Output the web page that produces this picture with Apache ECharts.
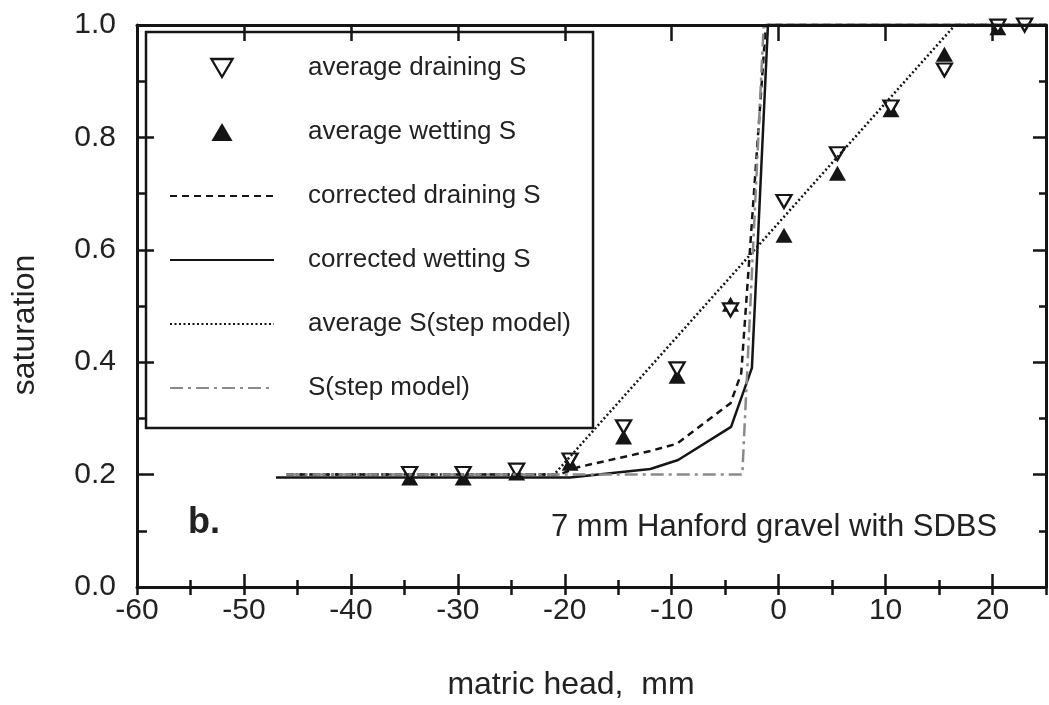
<!DOCTYPE html>
<html><head><meta charset="utf-8">
<script src="https://cdn.jsdelivr.net/npm/echarts@6/dist/echarts.min.js"></script>
<style>html,body{margin:0;padding:0;background:#fff}#c{width:1049px;height:705px}</style>
</head><body><div id="c"></div>
<script>
// ---- data ----
const xDrain = [-34.5, -29.5, -24.5, -19.5, -14.5, -9.5, -4.5, 0.5, 5.5, 10.5, 15.5, 20.5, 23];
const yDrain = [0.202, 0.202, 0.208, 0.226, 0.285, 0.388, 0.493, 0.686, 0.771, 0.854, 0.92, 0.998, 1.0];
const xWet = [-34.5, -29.5, -24.5, -19.5, -14.5, -9.5, -4.5, 0.5, 5.5, 10.5, 15.5, 20.5];
const yWet = [0.194, 0.194, 0.203, 0.22, 0.267, 0.375, 0.503, 0.626, 0.736, 0.849, 0.948, 0.995];
const xCorrDrain = [-46, -20.5, -18.8, -12, -9.5, -4.5, -3.5, -1.2, 25];
const yCorrDrain = [0.2, 0.2, 0.213, 0.242, 0.255, 0.327, 0.38, 1.0, 1.0];
const xCorrWet = [-47, -19.5, -12, -9.4, -4.45, -2.5, -1, 25];
const yCorrWet = [0.195, 0.195, 0.21, 0.226, 0.285, 0.39, 1.0, 1.0];
const xAvgStep = [-46, -21, 16.5, 25];
const yAvgStep = [0.2, 0.2, 1.0, 1.0];
const xStep = [-46, -3.4, -1.4, 25];
const yStep = [0.2, 0.2, 1.0, 1.0];
const legendNames = ['average draining S', 'average wetting S', 'corrected draining S',
                     'corrected wetting S', 'average S(step model)', 'S(step model)'];
const xTitle = 'matric head,  mm';
const yTitle = 'saturation';
const note = '7 mm Hanford gravel with SDBS';
const panel = 'b.';

const zip = (xs, ys) => xs.map((x, i) => [x, ys[i]]);
const FONT = '"Liberation Sans", Arial, Helvetica, sans-serif';
const INK = '#151515';
const GREY = '#8a8a8a';
const DOWN_TRI = 'path://M0,0L20,0L10,17Z';
const UP_TRI = 'path://M10,0L20,17L0,17Z';
const HIDDEN = {color: 'rgba(0,0,0,0)', borderWidth: 0, opacity: 0};

const chart = echarts.init(document.getElementById('c'), null, {renderer: 'canvas'});
const XMIN = -60, XMAX = 25;
function xAx(opts) {
  return Object.assign({
    type: 'value', gridIndex: 0, min: XMIN, max: XMAX, interval: 10, z: 10,
    splitLine: {show: false},
    axisLine: {show: false},
    axisLabel: {show: false},
    axisTick: {show: true, inside: true, length: 13, lineStyle: {color: INK, width: 2.5}}
  }, opts);
}
chart.setOption({
  animation: false,
  backgroundColor: '#fff',
  grid: {left: 137, top: 25, right: -5, bottom: 118, containLabel: false},
  legend: {
    orient: 'vertical', left: 146, top: 32,
    data: [
      {name: legendNames[0], icon: DOWN_TRI, itemStyle: {color: '#fff', borderColor: INK, borderWidth: 2.3}},
      {name: legendNames[1], icon: UP_TRI, itemStyle: {color: INK, borderWidth: 0}},
      {name: legendNames[2], itemStyle: HIDDEN},
      {name: legendNames[3], itemStyle: HIDDEN},
      {name: legendNames[4], itemStyle: HIDDEN},
      {name: legendNames[5], itemStyle: HIDDEN}
    ],
    selectedMode: false,
    backgroundColor: '#fff', borderColor: INK, borderWidth: 2.5, borderRadius: 0,
    padding: [23, 22, 27, 23],
    itemWidth: 104, itemHeight: 18, itemGap: 38, symbolKeepAspect: true,
    textStyle: {fontSize: 26, lineHeight: 26, color: '#222', fontFamily: FONT, padding: [0, 0, 0, 29]},
    z: 4
  },
  xAxis: [
    xAx({position: 'bottom',
         axisLine: {show: true, onZero: false, lineStyle: {color: INK, width: 3}},
         axisLabel: {show: true, fontSize: 30, color: '#222', fontFamily: FONT, margin: 9,
                     formatter: v => (v > 20 ? '' : String(v))}}),
    xAx({position: 'bottom', interval: 5, axisTick: {show: true, inside: true, length: 7, lineStyle: {color: INK, width: 2.5}}}),
    xAx({position: 'top',
         axisLine: {show: true, onZero: false, lineStyle: {color: INK, width: 3}},
         axisTick: {show: true, inside: true, length: 16, lineStyle: {color: INK, width: 2.5}}}),
    xAx({position: 'top', interval: 5, axisTick: {show: true, inside: true, length: 8, lineStyle: {color: INK, width: 2.5}}})
  ],
  yAxis: [
    {type: 'value', position: 'left', min: 0, max: 1, interval: 0.2, z: 10,
     splitLine: {show: false},
     axisLine: {show: true, onZero: false, lineStyle: {color: INK, width: 3}},
     axisTick: {show: true, inside: true, length: 17, lineStyle: {color: INK, width: 2.5}},
     minorTick: {show: true, splitNumber: 2, length: 10, lineStyle: {color: INK, width: 2.5}},
     axisLabel: {fontSize: 30, color: '#222', fontFamily: FONT, margin: 21, formatter: v => v.toFixed(1)}},
    {type: 'value', position: 'right', min: 0, max: 1, interval: 0.2, z: 10,
     splitLine: {show: false},
     axisLine: {show: true, onZero: false, lineStyle: {color: INK, width: 3}},
     axisTick: {show: true, inside: true, length: 13, lineStyle: {color: INK, width: 2.5}},
     minorTick: {show: true, splitNumber: 2, length: 7, lineStyle: {color: INK, width: 2.5}},
     axisLabel: {show: false}}
  ],
  series: [
    {name: 'average wetting S', type: 'scatter', data: zip(xWet, yWet), clip: false,
     symbol: 'triangle', symbolSize: [17, 15], itemStyle: {color: INK, opacity: 1}, z: 3},
    {name: 'average draining S', type: 'scatter', data: zip(xDrain, yDrain), clip: false,
     symbol: 'triangle', symbolRotate: 180, symbolSize: [15, 13],
     itemStyle: {color: '#fff', borderColor: INK, borderWidth: 2.3, opacity: 1}, z: 4},
    {name: 'corrected draining S', type: 'line', data: zip(xCorrDrain, yCorrDrain), clip: false,
     symbol: 'none', itemStyle: {color: INK}, lineStyle: {color: INK, width: 2.5, type: [7, 5]}, z: 5},
    {name: 'corrected wetting S', type: 'line', data: zip(xCorrWet, yCorrWet), clip: false,
     symbol: 'none', itemStyle: {color: INK}, lineStyle: {color: INK, width: 2.5, type: 'solid'}, z: 5},
    {name: 'average S(step model)', type: 'line', data: zip(xAvgStep, yAvgStep), clip: false,
     symbol: 'none', itemStyle: {color: INK}, lineStyle: {color: INK, width: 2.5, type: [2, 2.5]}, z: 5},
    {name: 'S(step model)', type: 'line', data: zip(xStep, yStep), clip: false,
     symbol: 'none', itemStyle: {color: GREY}, lineStyle: {color: GREY, width: 2.5, type: [13, 5, 3, 5]}, z: 5}
  ],
  graphic: [
    {type: 'text', z: 20, style: {x: 25, y: 325, text: yTitle, font: '32px ' + FONT, fill: '#222',
      textAlign: 'center', textVerticalAlign: 'middle'}, rotation: Math.PI / 2, originX: 25, originY: 325},
    {type: 'text', z: 20, style: {x: 571, y: 685, text: xTitle, font: '32px ' + FONT, fill: '#222',
      textAlign: 'center', textVerticalAlign: 'middle'}},
    {type: 'text', z: 20, style: {x: 551, y: 527, text: note, font: '31px ' + FONT, fill: '#222',
      textAlign: 'left', textVerticalAlign: 'middle'}},
    {type: 'text', z: 20, style: {x: 188, y: 523, text: panel, font: 'bold 36px ' + FONT, fill: '#222',
      textAlign: 'left', textVerticalAlign: 'middle'}}
  ]
});
</script></body></html>
